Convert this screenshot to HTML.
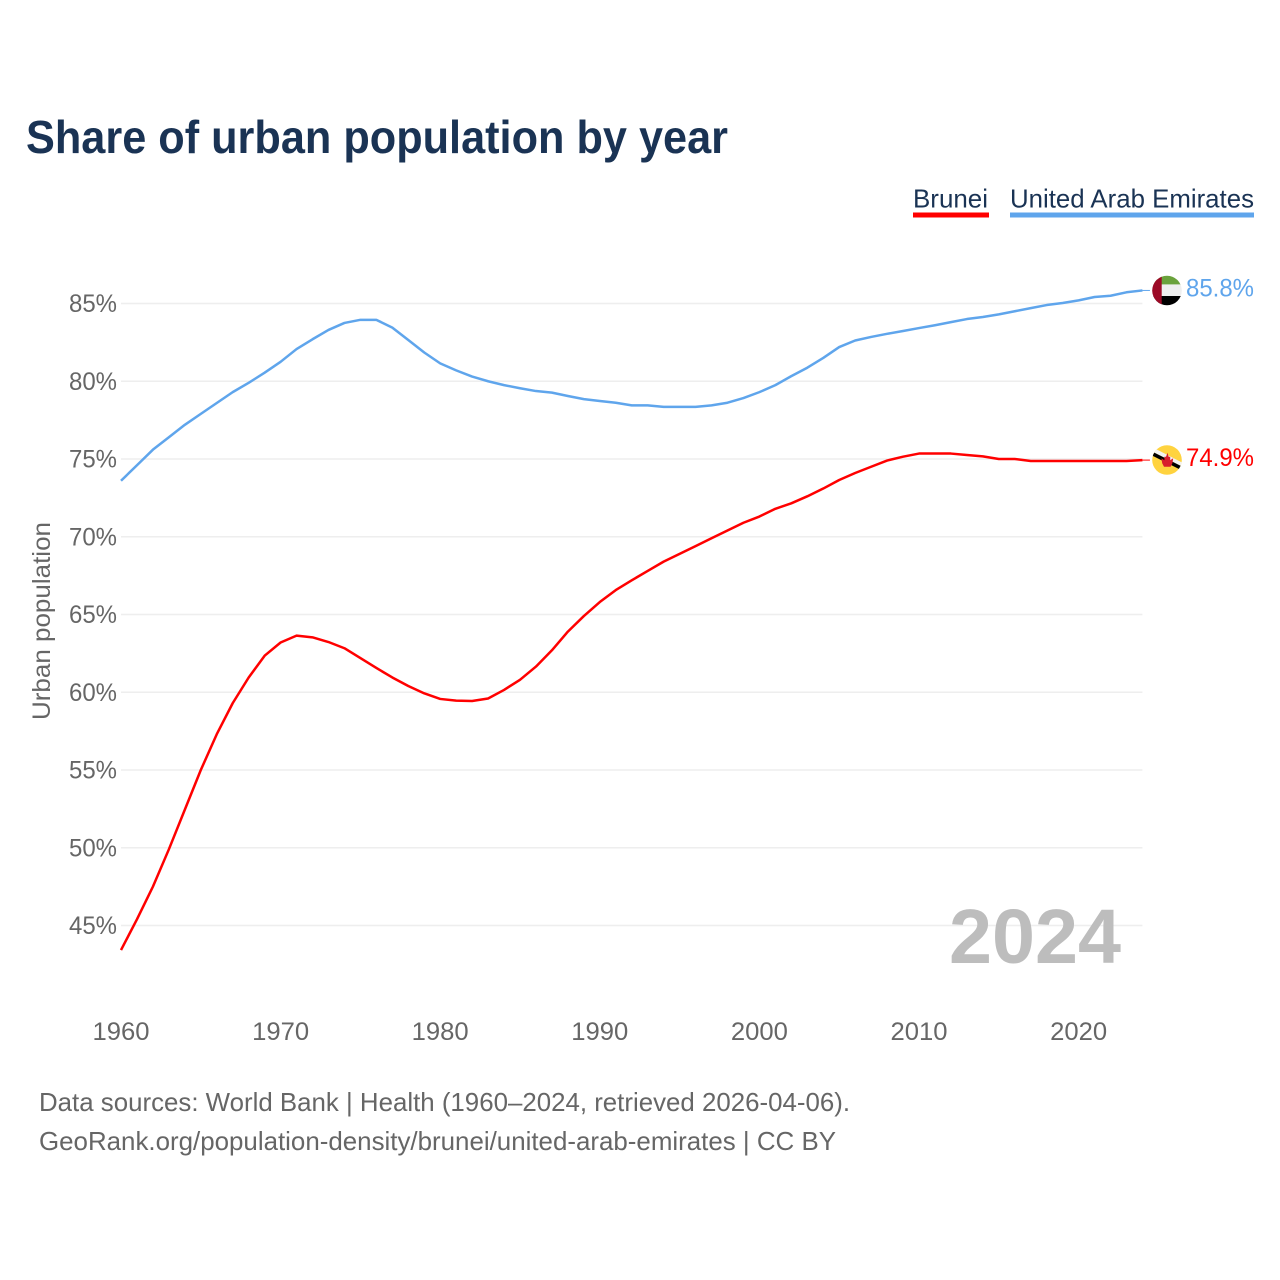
<!DOCTYPE html>
<html lang="en">
<head>
<meta charset="utf-8">
<title>Share of urban population by year</title>
<style>
html,body{margin:0;padding:0;background:#fff;width:1280px;height:1280px;overflow:hidden}
svg{display:block}
text{font-family:"Liberation Sans",sans-serif}
</style>
</head>
<body>
<svg id="chart" xmlns="http://www.w3.org/2000/svg" width="1280" height="1280" viewBox="0 0 1280 1280">
  <defs>
    <clipPath id="clip-uae"><circle cx="1167" cy="290.5" r="14.8"/></clipPath>
    <clipPath id="clip-brn"><circle cx="1167" cy="460" r="14.8"/></clipPath>
  </defs>
  <text x="26" y="153" font-size="46" font-weight="700" fill="#1a3354" textLength="702" lengthAdjust="spacingAndGlyphs">Share of urban population by year</text>

  <g>
    <g>
      <text x="913" y="207.5" font-size="26" fill="#1a3354" textLength="75" lengthAdjust="spacingAndGlyphs">Brunei</text>
      <rect x="913" y="212.5" width="76" height="5" fill="#ff0000"/>
    </g>
    <g>
      <text x="1010" y="207.5" font-size="26" fill="#1a3354" textLength="244" lengthAdjust="spacingAndGlyphs">United Arab Emirates</text>
      <rect x="1010" y="212.5" width="244" height="5" fill="#5fa5ec"/>
    </g>
  </g>

  <g id="grid"></g>
  <g id="yticks"></g>
  <g id="xticks"></g>

  <text transform="translate(50,621) rotate(-90)" text-anchor="middle" font-size="25" fill="#666666" textLength="198" lengthAdjust="spacingAndGlyphs">Urban population</text>

  <text x="949" y="963" font-size="77" font-weight="700" fill="#bdbdbd" textLength="172" lengthAdjust="spacingAndGlyphs">2024</text>

  <g id="series"></g>

  <g clip-path="url(#clip-uae)">
    <rect x="1152" y="275" width="30" height="9.5" fill="#6aa23c"/>
    <rect x="1152" y="284.4" width="30" height="11.8" fill="#efefef"/>
    <rect x="1152" y="296" width="30" height="10" fill="#000000"/>
    <rect x="1152" y="275" width="9.7" height="31" fill="#9c0a26"/>
  </g>
  <g clip-path="url(#clip-brn)">
    <rect x="1152" y="445" width="30" height="31" fill="#ffd33f"/>
    <polygon points="1152,447 1183,463 1183,467 1152,451.5" fill="#f2f2f2"/>
    <polygon points="1152,451.5 1183,467 1183,471 1152,455.5" fill="#000000"/>
    <path d="M1167.6 452.7 l1 4 h1.6 v3.6 l3 -2 l-.8 5 l-1.8 3.4 h-6.6 l-1.8 -3.4 l-.8 -5 l3 2 v-3.6 h1.6z" fill="#d81e2c"/>
  </g>

  <text id="end-label-uae" x="1186" y="296.5" font-size="25" fill="#5fa5ec" textLength="68" lengthAdjust="spacingAndGlyphs"></text>
  <text id="end-label-brn" x="1186" y="466" font-size="25" fill="#ff0000" textLength="68" lengthAdjust="spacingAndGlyphs"></text>

  <text x="39" y="1111" font-size="26" fill="#666666" textLength="811" lengthAdjust="spacingAndGlyphs">Data sources: World Bank | Health (1960–2024, retrieved 2026-04-06).</text>
  <text x="39" y="1150" font-size="26" fill="#666666" textLength="797" lengthAdjust="spacingAndGlyphs">GeoRank.org/population-density/brunei/united-arab-emirates | CC BY</text>
</svg>
<script>
const firstYear = 1960;
const xTickYears = [1960, 1970, 1980, 1990, 2000, 2010, 2020];
const yTickValues = [45, 50, 55, 60, 65, 70, 75, 80, 85];
const bruneiValues = [43.42,45.4,47.5,49.9,52.45,55.0,57.3,59.3,60.95,62.35,
  63.2,63.64,63.53,63.23,62.83,62.2,61.56,60.95,60.4,59.93,
  59.57,59.46,59.44,59.6,60.15,60.8,61.65,62.7,63.9,64.9,
  65.8,66.57,67.2,67.8,68.4,68.9,69.4,69.9,70.4,70.9,
  71.3,71.8,72.15,72.6,73.1,73.65,74.1,74.5,74.9,75.15,
  75.35,75.35,75.35,75.26,75.17,75.0,75.0,74.87,74.87,74.87,
  74.87,74.87,74.87,74.87,74.93];
const uaeValues = [73.6,74.6,75.6,76.4,77.2,77.9,78.6,79.3,79.9,80.55,
  81.25,82.07,82.7,83.3,83.75,83.95,83.95,83.45,82.65,81.85,
  81.15,80.7,80.3,80.0,79.75,79.55,79.37,79.27,79.05,78.85,
  78.73,78.62,78.45,78.45,78.35,78.35,78.35,78.45,78.62,78.92,
  79.3,79.75,80.33,80.87,81.5,82.2,82.62,82.85,83.05,83.23,
  83.42,83.6,83.8,84.0,84.13,84.3,84.5,84.7,84.9,85.03,
  85.2,85.42,85.5,85.72,85.84];

const NS = 'http://www.w3.org/2000/svg';
const xScale = function (year) { return 121 + (year - 1960) * 15.96; };
const yScale = function (value) { return 303.5 + (85 - value) * 15.55; };
const plotLeft = xScale(1960);
const plotRight = xScale(2024);

const grid = document.getElementById('grid');
const yticks = document.getElementById('yticks');
yTickValues.forEach(function (v) {
  const line = document.createElementNS(NS, 'line');
  
  
  line.setAttribute('x1', plotLeft);
  line.setAttribute('x2', plotRight);
  line.setAttribute('y1', yScale(v));
  line.setAttribute('y2', yScale(v));
  line.setAttribute('stroke', '#eeeeee');
  line.setAttribute('stroke-width', '1.5');
  grid.appendChild(line);

  const label = document.createElementNS(NS, 'text');
  
  
  label.setAttribute('x', 69);
  label.setAttribute('y', yScale(v) + 8.5);
  label.setAttribute('font-size', '25');
  label.setAttribute('fill', '#666666');
  label.setAttribute('textLength', '48');
  label.setAttribute('lengthAdjust', 'spacingAndGlyphs');
  label.textContent = v + '%';
  yticks.appendChild(label);
});

const xticks = document.getElementById('xticks');
xTickYears.forEach(function (y) {
  const label = document.createElementNS(NS, 'text');
  
  
  label.setAttribute('x', xScale(y) - 28.5);
  label.setAttribute('y', 1040);
  label.setAttribute('font-size', '25');
  label.setAttribute('fill', '#666666');
  label.setAttribute('textLength', '57');
  label.setAttribute('lengthAdjust', 'spacingAndGlyphs');
  label.textContent = String(y);
  xticks.appendChild(label);
});

const seriesGroup = document.getElementById('series');
function drawSeries(values, color, name) {
  const pts = values.map(function (v, i) {
    return xScale(firstYear + i).toFixed(2) + ',' + yScale(v).toFixed(2);
  }).join(' ');
  const line = document.createElementNS(NS, 'polyline');
  
  
  line.setAttribute('points', pts);
  line.setAttribute('fill', 'none');
  line.setAttribute('stroke', color);
  line.setAttribute('stroke-width', '2.5');
  line.setAttribute('stroke-linejoin', 'round');
  seriesGroup.appendChild(line);

  const lastY = yScale(values[values.length - 1]);
  const leader = document.createElementNS(NS, 'line');
  
  
  leader.setAttribute('x1', plotRight);
  leader.setAttribute('x2', plotRight + 7.5);
  leader.setAttribute('y1', lastY);
  leader.setAttribute('y2', lastY);
  leader.setAttribute('stroke', color);
  leader.setAttribute('stroke-width', '1');
  seriesGroup.appendChild(leader);
}
drawSeries(uaeValues, '#5fa5ec', 'line-uae');
drawSeries(bruneiValues, '#ff0000', 'line-brunei');

document.getElementById('end-label-uae').textContent = uaeValues[uaeValues.length - 1].toFixed(1) + '%';
document.getElementById('end-label-brn').textContent = bruneiValues[bruneiValues.length - 1].toFixed(1) + '%';
</script>
</body>
</html>
